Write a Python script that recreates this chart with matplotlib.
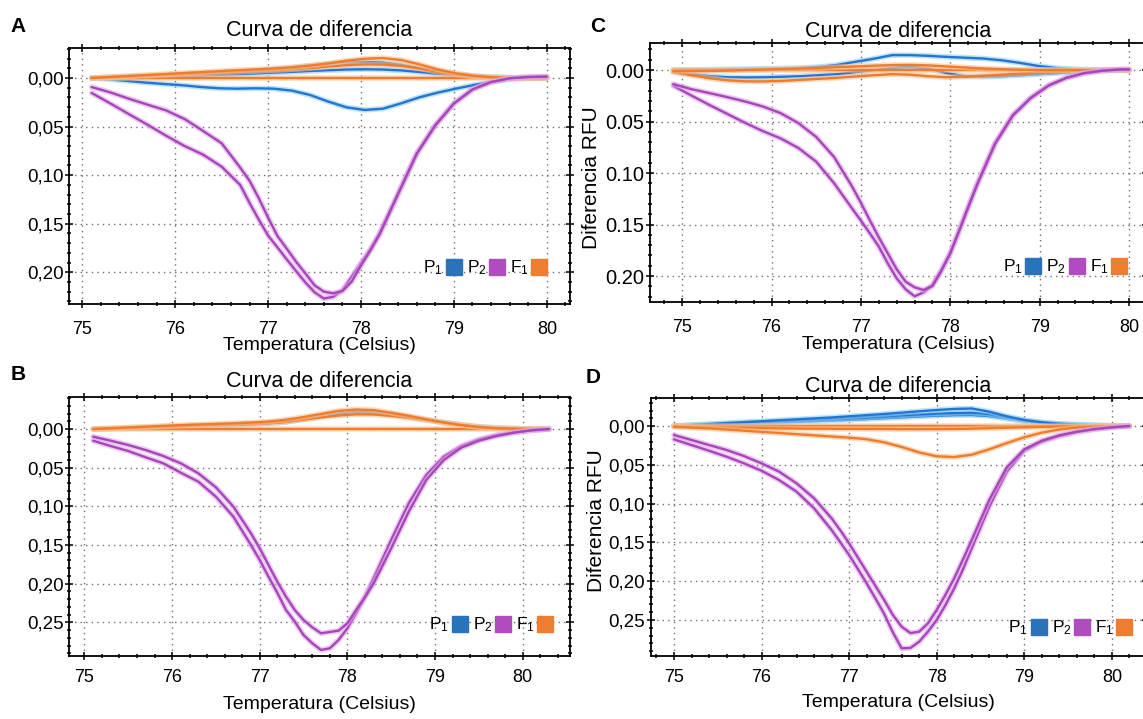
import numpy as np
import matplotlib
matplotlib.use("Agg")
import matplotlib.pyplot as plt
import matplotlib.patheffects as pe
from matplotlib.lines import Line2D
from matplotlib.ticker import MultipleLocator, FuncFormatter

plt.rcParams["font.family"] = ["Liberation Sans", "DejaVu Sans"]
plt.rcParams["mathtext.default"] = "regular"

BLUE = "#2474d2"
PURPLE = "#a547b8"
ORANGE = "#f07b2a"
GLOW = {BLUE: "#92d2f4", PURPLE: "#e2a6ea", ORANGE: "#f9c294"}
LEG_COLORS = ["#2a72ba", "#b04cc0", "#ef7d30"]
LEG_LABELS = ["P$_1$", "P$_2$", "F$_1$"]

# ===================== datos (diferencia, eje invertido) =====================

# --- A ---
a_temps = np.linspace(75.1, 80.0, 26)
a_p2_temps = [75.1, 75.3, 75.5, 75.7, 75.9, 76.1, 76.3, 76.5, 76.7, 76.8, 76.9, 77.0,
              77.1, 77.2, 77.3, 77.4, 77.5, 77.6, 77.7, 77.8, 77.9, 78.0, 78.1, 78.2,
              78.3, 78.4, 78.6, 78.8, 79.0, 79.2, 79.4, 79.6, 79.8, 80.0]
a_p2_deep = [0.0154, 0.0261, 0.0371, 0.0480, 0.0593, 0.0700, 0.0789, 0.0913, 0.1101,
             0.1286, 0.1458, 0.1622, 0.1743, 0.1866, 0.1986, 0.2103, 0.2205, 0.2270,
             0.2252, 0.2185, 0.2045, 0.1904, 0.1763, 0.1599, 0.1393, 0.1187, 0.0775,
             0.0484, 0.0261, 0.0117, 0.0041, 0.0003, -0.0010, -0.0014]
a_p2_flat = [0.0093, 0.0148, 0.0213, 0.0274, 0.0333, 0.0422, 0.0545, 0.0672, 0.0923,
             0.1057, 0.1238, 0.1437, 0.1626, 0.1756, 0.1890, 0.2010, 0.2134, 0.2199,
             0.2216, 0.2192, 0.2095, 0.1930, 0.1775, 0.1608, 0.1400, 0.1192, 0.0780,
             0.0487, 0.0263, 0.0118, 0.0042, 0.0003, -0.0010, -0.0014]
a_p1_dip = [0.0, 0.0014, 0.0031, 0.0048, 0.0062, 0.0075, 0.0093, 0.0106, 0.0110, 0.0106,
            0.0110, 0.0130, 0.0175, 0.0243, 0.0302, 0.0329, 0.0316, 0.0261, 0.0199,
            0.0151, 0.0110, 0.0072, 0.0038, 0.0014, 0.0003, 0.0]
a_p1_up1 = [0.0, -0.0005, -0.0010, -0.0017, -0.0025, -0.0033, -0.0040, -0.0048, -0.0058,
            -0.0072, -0.0088, -0.0105, -0.0125, -0.0145, -0.0160, -0.0165, -0.0158,
            -0.0135, -0.0103, -0.0070, -0.0040, -0.0020, -0.0008, -0.0003, 0.0, 0.0]
a_p1_up2 = [0.0, -0.0003, -0.0007, -0.0012, -0.0017, -0.0022, -0.0028, -0.0034, -0.0040,
            -0.0047, -0.0055, -0.0063, -0.0072, -0.0080, -0.0087, -0.0090, -0.0087,
            -0.0078, -0.0062, -0.0044, -0.0027, -0.0014, -0.0006, -0.0002, 0.0, 0.0]
a_f1_up1 = [0.0, -0.0010, -0.0020, -0.0030, -0.0040, -0.0050, -0.0060, -0.0070, -0.0080,
            -0.0088, -0.0098, -0.0110, -0.0128, -0.0150, -0.0178, -0.0198, -0.0205,
            -0.0185, -0.0140, -0.0088, -0.0048, -0.0022, -0.0008, -0.0002, 0.0, 0.0]
a_f1_up2 = [0.0, -0.0008, -0.0016, -0.0024, -0.0032, -0.0040, -0.0048, -0.0056, -0.0064,
            -0.0072, -0.0080, -0.0090, -0.0102, -0.0118, -0.0132, -0.0140, -0.0138,
            -0.0125, -0.0098, -0.0065, -0.0035, -0.0015, -0.0005, -0.0001, 0.0, 0.0]
a_f1_zero = [0.0] * 26

# --- B ---
b_temps = np.linspace(75.1, 80.3, 27)
b_p2_temps = [75.1, 75.3, 75.5, 75.7, 75.9, 76.1, 76.3, 76.5, 76.7, 76.9, 77.0, 77.1,
              77.2, 77.3, 77.4, 77.5, 77.6, 77.7, 77.8, 77.9, 78.0, 78.1, 78.2, 78.3,
              78.5, 78.7, 78.9, 79.1, 79.3, 79.5, 79.7, 79.9, 80.1, 80.3]
b_p2_deep = [0.0151, 0.0220, 0.0284, 0.0366, 0.0444, 0.0565, 0.0681, 0.0875, 0.1134,
             0.1500, 0.1694, 0.1909, 0.2116, 0.2341, 0.2491, 0.2664, 0.2772, 0.2858,
             0.2836, 0.2728, 0.2578, 0.2384, 0.2168, 0.1931, 0.1435, 0.0961, 0.0595,
             0.0358, 0.0220, 0.0134, 0.0078, 0.0043, 0.0017, 0.0]
b_p2_flat = [0.0099, 0.0151, 0.0207, 0.0272, 0.0349, 0.0444, 0.0573, 0.0754, 0.1004,
             0.1349, 0.1543, 0.1759, 0.1974, 0.2168, 0.2341, 0.2470, 0.2565, 0.2642,
             0.2625, 0.2608, 0.2513, 0.2341, 0.2177, 0.1996, 0.1543, 0.1069, 0.0659,
             0.0401, 0.0241, 0.0151, 0.0091, 0.0047, 0.0017, 0.0]
b_p1_up = [0.0, -0.0005, -0.0010, -0.0015, -0.0020, -0.0028, -0.0035, -0.0042, -0.0050,
           -0.0060, -0.0072, -0.0090, -0.0125, -0.0165, -0.0200, -0.0220, -0.0215,
           -0.0190, -0.0155, -0.0120, -0.0085, -0.0055, -0.0030, -0.0015, -0.0006,
           -0.0002, 0.0]
b_f1_up1 = [0.0, -0.0010, -0.0020, -0.0030, -0.0040, -0.0050, -0.0058, -0.0066, -0.0074,
            -0.0084, -0.0096, -0.0120, -0.0155, -0.0195, -0.0235, -0.0252, -0.0245,
            -0.0210, -0.0170, -0.0125, -0.0085, -0.0050, -0.0025, -0.0010, -0.0004,
            0.0, 0.0]
b_f1_up2 = [0.0, -0.0008, -0.0016, -0.0024, -0.0032, -0.0040, -0.0046, -0.0052, -0.0058,
            -0.0066, -0.0076, -0.0095, -0.0122, -0.0150, -0.0175, -0.0190, -0.0188,
            -0.0170, -0.0145, -0.0115, -0.0082, -0.0050, -0.0026, -0.0010, -0.0004,
            0.0, 0.0]
b_f1_zero = [0.0] * 27

# --- C ---
c_temps = np.linspace(74.9, 80.0, 26)
c_p2_temps = [74.9, 75.1, 75.3, 75.5, 75.7, 75.9, 76.1, 76.3, 76.5, 76.7, 76.9, 77.0,
              77.1, 77.2, 77.3, 77.4, 77.5, 77.6, 77.7, 77.8, 77.9, 78.0, 78.1, 78.2,
              78.3, 78.5, 78.7, 78.9, 79.1, 79.3, 79.5, 79.7, 79.9, 80.0]
c_p2_deep = [0.0152, 0.0246, 0.0337, 0.0424, 0.0511, 0.0592, 0.0663, 0.0757, 0.0890,
             0.1100, 0.1343, 0.1463, 0.1586, 0.1715, 0.1877, 0.2023, 0.2129, 0.2197,
             0.2159, 0.2087, 0.1942, 0.1773, 0.1553, 0.1327, 0.1107, 0.0712, 0.0437,
             0.0269, 0.0149, 0.0074, 0.0029, 0.0006, -0.0006, -0.0006]
c_p2_flat = [0.0136, 0.0185, 0.0223, 0.0262, 0.0304, 0.0353, 0.0418, 0.0515, 0.0650,
             0.0845, 0.1130, 0.1290, 0.1460, 0.1625, 0.1780, 0.1935, 0.2055, 0.2110,
             0.2136, 0.2097, 0.1948, 0.1778, 0.1558, 0.1332, 0.1112, 0.0716, 0.0440,
             0.0271, 0.0150, 0.0075, 0.0030, 0.0006, -0.0006, -0.0006]
c_p1_up = [0.0, -0.0003, -0.0005, -0.0008, -0.0010, -0.0013, -0.0016, -0.0020, -0.0030,
           -0.0050, -0.0080, -0.0110, -0.0145, -0.0145, -0.0138, -0.0128, -0.0120,
           -0.0112, -0.0095, -0.0070, -0.0040, -0.0020, -0.0008, -0.0003, 0.0, 0.0]
c_p1_low = [0.0015, 0.0040, 0.0060, 0.0070, 0.0072, 0.0070, 0.0065, 0.0060, 0.0050,
            0.0040, 0.0020, 0.0, -0.0020, -0.0030, -0.0015, 0.0030, 0.0060, 0.0065,
            0.0060, 0.0050, 0.0040, 0.0030, 0.0020, 0.0010, 0.0003, 0.0]
c_f1_low = [0.0020, 0.0050, 0.0080, 0.0100, 0.0110, 0.0110, 0.0105, 0.0095, 0.0085,
            0.0075, 0.0062, 0.0050, 0.0040, 0.0045, 0.0060, 0.0070, 0.0065, 0.0055,
            0.0045, 0.0035, 0.0025, 0.0015, 0.0008, 0.0003, 0.0, 0.0]
c_f1_up = [0.0010, 0.0010, 0.0008, 0.0005, 0.0, -0.0005, -0.0010, -0.0015, -0.0020,
           -0.0028, -0.0035, -0.0042, -0.0048, -0.0050, -0.0045, -0.0035, -0.0025,
           -0.0015, -0.0008, -0.0003, 0.0, 0.0, 0.0, 0.0, 0.0, 0.0]
c_f1_zero = [0.0] * 26

# --- D ---
d_temps = np.linspace(75.0, 80.2, 27)
d_p2_temps = [75.0, 75.2, 75.4, 75.6, 75.8, 76.0, 76.2, 76.4, 76.6, 76.8, 76.9, 77.0,
              77.1, 77.2, 77.3, 77.4, 77.5, 77.6, 77.7, 77.8, 77.9, 78.0, 78.1, 78.2,
              78.3, 78.4, 78.6, 78.8, 79.0, 79.2, 79.4, 79.6, 79.8, 80.0, 80.2]
d_p2_deep = [0.0172, 0.0245, 0.0318, 0.0395, 0.0481, 0.0576, 0.0696, 0.0846, 0.1061,
             0.1340, 0.1499, 0.1662, 0.1843, 0.2027, 0.2221, 0.2420, 0.2660, 0.2865,
             0.2860, 0.2779, 0.2650, 0.2500, 0.2307, 0.2092, 0.1847, 0.1576, 0.1040,
             0.0588, 0.0318, 0.0202, 0.0129, 0.0077, 0.0043, 0.0017, 0.0]
d_p2_flat = [0.0116, 0.0180, 0.0245, 0.0309, 0.0387, 0.0481, 0.0588, 0.0739, 0.0932,
             0.1190, 0.1345, 0.1512, 0.1695, 0.1877, 0.2060, 0.2242, 0.2436, 0.2586,
             0.2668, 0.2650, 0.2543, 0.2371, 0.2175, 0.1963, 0.1720, 0.1469, 0.0954,
             0.0533, 0.0301, 0.0189, 0.0120, 0.0073, 0.0039, 0.0017, 0.0]
d_p1_up1 = [0.0, -0.0012, -0.0025, -0.0038, -0.0050, -0.0062, -0.0074, -0.0086, -0.0098,
            -0.0110, -0.0125, -0.0140, -0.0155, -0.0172, -0.0190, -0.0206, -0.0220,
            -0.0226, -0.0185, -0.0125, -0.0078, -0.0048, -0.0029, -0.0017, -0.0009,
            -0.0003, 0.0]
d_p1_up2 = [0.0, -0.0010, -0.0020, -0.0030, -0.0040, -0.0050, -0.0060, -0.0070, -0.0080,
            -0.0090, -0.0100, -0.0112, -0.0125, -0.0138, -0.0150, -0.0160, -0.0168,
            -0.0172, -0.0155, -0.0112, -0.0072, -0.0045, -0.0027, -0.0016, -0.0009,
            -0.0003, 0.0]
d_p1_up3 = [0.0, -0.0008, -0.0016, -0.0024, -0.0032, -0.0040, -0.0048, -0.0056, -0.0064,
            -0.0072, -0.0080, -0.0090, -0.0101, -0.0112, -0.0123, -0.0133, -0.0140,
            -0.0142, -0.0128, -0.0095, -0.0062, -0.0038, -0.0022, -0.0013, -0.0007,
            -0.0002, 0.0]
d_f1_dip = [0.0010, 0.0020, 0.0030, 0.0045, 0.0060, 0.0075, 0.0090, 0.0105, 0.0120,
            0.0135, 0.0150, 0.0170, 0.0210, 0.0270, 0.0340, 0.0390, 0.0400, 0.0370,
            0.0300, 0.0220, 0.0145, 0.0085, 0.0045, 0.0020, 0.0010, 0.0003, 0.0]
d_f1_small = [0.0005, 0.0010, 0.0015, 0.0020, 0.0024, 0.0027, 0.0030, 0.0032, 0.0034,
              0.0035, 0.0036, 0.0037, 0.0038, 0.0040, 0.0040, 0.0040, 0.0038, 0.0034,
              0.0028, 0.0022, 0.0016, 0.0011, 0.0007, 0.0004, 0.0002, 0.0, 0.0]
d_f1_zero = [0.0] * 27


# ===================== dibujo =====================

def comma_fmt(v, pos):
    if abs(v) < 1e-9:
        v = 0.0
    return f"{v:.2f}".replace(".", ",")


def dot_fmt(v, pos):
    if abs(v) < 1e-9:
        v = 0.0
    return f"{v:.2f}"


def line(ax, x, y, color):
    ax.plot(x, y, color=color, lw=1.7, solid_capstyle="round", solid_joinstyle="round",
            path_effects=[pe.Stroke(linewidth=4.0, foreground=GLOW[color], alpha=0.6),
                          pe.Normal()])


def draw_panel(ax, temps, blues, oranges, p2_temps, purples, xlim, ylim, fmt,
               ytick_size, title_pad, xlabel_y, leg_anchor, ylabel_pos=None,
               xtick_pad=8):
    for y in blues:
        line(ax, temps, y, BLUE)
    for y in oranges:
        line(ax, temps, y, ORANGE)
    for y in purples:
        line(ax, p2_temps, y, PURPLE)

    ax.set_xlim(*xlim)
    ax.set_ylim(*ylim)  # invertido: 0 arriba

    ax.xaxis.set_major_locator(MultipleLocator(1))
    ax.xaxis.set_minor_locator(MultipleLocator(0.2))
    ax.yaxis.set_major_locator(MultipleLocator(0.05))
    ax.yaxis.set_minor_locator(MultipleLocator(0.01))
    ax.yaxis.set_major_formatter(FuncFormatter(fmt))

    ax.grid(True, which="major", linestyle=(0, (1, 3)), color="#6f6f6f", lw=1.0)
    ax.tick_params(which="both", direction="inout", top=True, right=True, width=1.1)
    ax.tick_params(which="major", length=6)
    ax.tick_params(which="minor", length=3.5)
    ax.tick_params(axis="y", labelsize=ytick_size, pad=1)
    ax.tick_params(axis="x", labelsize=13, pad=xtick_pad)
    for s in ax.spines.values():
        s.set_linewidth(1.3)

    ax.set_title("Curva de diferencia", fontsize=15.5, pad=title_pad)
    ax.set_xlabel("Temperatura (Celsius)", fontsize=14)
    ax.xaxis.set_label_coords(0.5, xlabel_y)
    if ylabel_pos is not None:
        ax.set_ylabel("Diferencia RFU", fontsize=15)
        ax.yaxis.set_label_coords(*ylabel_pos)

    handles = [Line2D([], [], marker="s", ls="none", markersize=11.5,
                      markerfacecolor=c, markeredgecolor=c) for c in LEG_COLORS]
    ax.legend(handles, LEG_LABELS, loc="center right", bbox_to_anchor=leg_anchor,
              ncol=3, markerfirst=False, frameon=False, fontsize=12.5,
              handlelength=0.9, handletextpad=0.15, columnspacing=0.3,
              borderpad=0, borderaxespad=0)


def main():
    fig = plt.figure(figsize=(11.43, 7.19), dpi=100)

    ax_a = fig.add_axes([0.0608, 0.5772, 0.4376, 0.3565])
    ax_b = fig.add_axes([0.0608, 0.0876, 0.4376, 0.3598])
    ax_c = fig.add_axes([0.5687, 0.5796, 0.4340, 0.3602])
    ax_d = fig.add_axes([0.5693, 0.0876, 0.4333, 0.3584])

    draw_panel(ax_a, a_temps,
               [a_p1_dip, a_p1_up1, a_p1_up2],
               [a_f1_zero, a_f1_up2, a_f1_up1],
               a_p2_temps, [a_p2_deep, a_p2_flat],
               (74.862, 80.246), (0.2326, -0.0312), comma_fmt, 13.5,
               8.4, -0.128, (0.955, 0.14), xtick_pad=9)

    draw_panel(ax_b, b_temps,
               [b_p1_up],
               [b_f1_zero, b_f1_up2, b_f1_up1],
               b_p2_temps, [b_p2_deep, b_p2_flat],
               (74.83, 80.536), (0.2936, -0.041), comma_fmt, 13.5,
               7.6, -0.155, (0.967, 0.12), xtick_pad=6)

    draw_panel(ax_c, c_temps,
               [c_p1_up, c_p1_low],
               [c_f1_zero, c_f1_low, c_f1_up],
               c_p2_temps, [c_p2_deep, c_p2_flat],
               (74.64, 80.19), (0.2255, -0.026), dot_fmt, 14.5,
               4.8, -0.13, (0.961, 0.136), ylabel_pos=(-0.099, 0.482), xtick_pad=9)

    draw_panel(ax_d, d_temps,
               [d_p1_up3, d_p1_up2, d_p1_up1],
               [d_f1_zero, d_f1_small, d_f1_dip],
               d_p2_temps, [d_p2_deep, d_p2_flat],
               (74.734, 80.39), (0.2964, -0.0357), comma_fmt, 13.5,
               4.8, -0.147, (0.972, 0.109), ylabel_pos=(-0.091, 0.526), xtick_pad=6)

    # letras de panel
    for txt, x, y in [("A", 18, 26), ("B", 18, 374), ("C", 598, 27), ("D", 593, 378)]:
        fig.text(x / 1143, 1 - y / 719, txt, fontsize=15, fontweight="bold",
                 ha="center", va="center")

    fig.savefig("out.png", dpi=100)


if __name__ == "__main__":
    main()
